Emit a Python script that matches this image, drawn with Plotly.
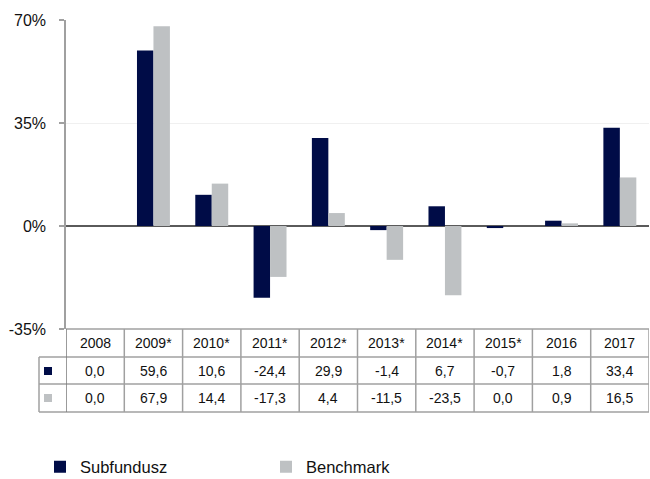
import plotly.graph_objects as go

years = ["2008", "2009*", "2010*", "2011*", "2012*", "2013*", "2014*", "2015*", "2016", "2017"]
subfundusz = [0.0, 59.6, 10.6, -24.4, 29.9, -1.4, 6.7, -0.7, 1.8, 33.4]
benchmark = [0.0, 67.9, 14.4, -17.3, 4.4, -11.5, -23.5, 0.0, 0.9, 16.5]
y_ticks = [-35, 0, 35, 70]
y_tick_labels = ["-35%", "0%", "35%", "70%"]

NAVY = "#000C47"
GRAY = "#BEC1C3"
FONT = "Liberation Sans, Arial, sans-serif"

W, H = 650, 479
ML, MR, MT, MB = 66, 1, 20, 150
PH = H - MT - MB  # plot height in px
PW = W - ML - MR


def py(px):
    """pixel row -> paper y"""
    return (H - MB - px) / PH


def pxp(px):
    """pixel column -> paper x"""
    return (px - ML) / PW


fig = go.Figure()
fig.add_trace(go.Bar(x=years, y=subfundusz, name="Subfundusz", marker_color=NAVY, marker_line_width=0))
fig.add_trace(go.Bar(x=years, y=benchmark, name="Benchmark", marker_color=GRAY, marker_line_width=0))

shapes = []
annotations = []
n = len(years)
LINE_C = "#A0A0A0"
DARK_C = "#7A7A7A"

# row boundaries in px
r0, r1, r2, r3 = 329, 357, 384, 412
shapes.append(dict(type="line", xref="paper", yref="paper", x0=0, x1=1, y0=py(r0), y1=py(r0),
                   line=dict(color=LINE_C, width=1.5)))
left_paper = pxp(39)
for r in (r1, r2, r3):
    shapes.append(dict(type="line", xref="paper", yref="paper", x0=left_paper, x1=1, y0=py(r), y1=py(r),
                       line=dict(color=LINE_C, width=1.5)))
for i in range(n + 1):
    xv = i - 0.5
    shapes.append(dict(type="line", xref="x", yref="paper", x0=xv, x1=xv, y0=py(r0), y1=py(r3),
                       line=dict(color=DARK_C if i == 0 else LINE_C, width=1.5)))
shapes.append(dict(type="line", xref="paper", yref="paper", x0=left_paper, x1=left_paper,
                   y0=py(r1), y1=py(r3), line=dict(color=LINE_C, width=1.5)))
# legend swatches in table
shapes.append(dict(type="rect", xref="paper", yref="paper", x0=pxp(44), x1=pxp(52), y0=py(375), y1=py(367),
                   fillcolor=NAVY, line_width=0))
shapes.append(dict(type="rect", xref="paper", yref="paper", x0=pxp(44), x1=pxp(52), y0=py(402), y1=py(394),
                   fillcolor=GRAY, line_width=0))


def fmt(v):
    return f"{v:.1f}".replace(".", ",")


tfont = dict(family=FONT, size=14, color="#111111")
for i, yr in enumerate(years):
    annotations.append(dict(x=i, xref="x", y=py((r0 + r1) / 2), yref="paper", text=yr, showarrow=False,
                            font=tfont, yanchor="middle"))
    annotations.append(dict(x=i, xref="x", y=py((r1 + r2) / 2), yref="paper", text=fmt(subfundusz[i]),
                            showarrow=False, font=tfont, yanchor="middle"))
    annotations.append(dict(x=i, xref="x", y=py((r2 + r3) / 2), yref="paper", text=fmt(benchmark[i]),
                            showarrow=False, font=tfont, yanchor="middle"))

fig.update_layout(
    width=W, height=H,
    margin=dict(l=ML, r=MR, t=MT, b=MB, autoexpand=False),
    paper_bgcolor="white", plot_bgcolor="white",
    barmode="group", bargap=0.435, bargroupgap=0,
    font=dict(family=FONT, size=14, color="#111111"),
    shapes=shapes, annotations=annotations,
    showlegend=True,
    legend=dict(orientation="h", xref="container", x=40 / W, xanchor="left",
                yref="container", y=(H - 467) / H, yanchor="middle", entrywidth=181, itemwidth=30,
                font=dict(family=FONT, size=16.5, color="#111111"), bgcolor="rgba(0,0,0,0)"),
    xaxis=dict(type="category", range=[-0.5, n - 0.5], showticklabels=False, showgrid=False,
               zeroline=False, showline=False, ticks=""),
    yaxis=dict(range=[-35, 70], tickvals=y_ticks, ticktext=y_tick_labels, showgrid=True,
               gridcolor="#F0F0F0", gridwidth=1, zeroline=True, zerolinecolor="#5A5A5A",
               zerolinewidth=2, showline=True, linecolor="#A0A0A0", linewidth=1.5,
               ticks="outside", ticklen=5, tickcolor="#A0A0A0", tickwidth=1.5,
               ticklabelstandoff=10, layer="above traces",
               tickfont=dict(family=FONT, size=16, color="#111111")),
)

fig.write_html("out.html", config={"displayModeBar": False},
               post_script="document.body.style.margin='0px';document.body.style.overflow='hidden';")
